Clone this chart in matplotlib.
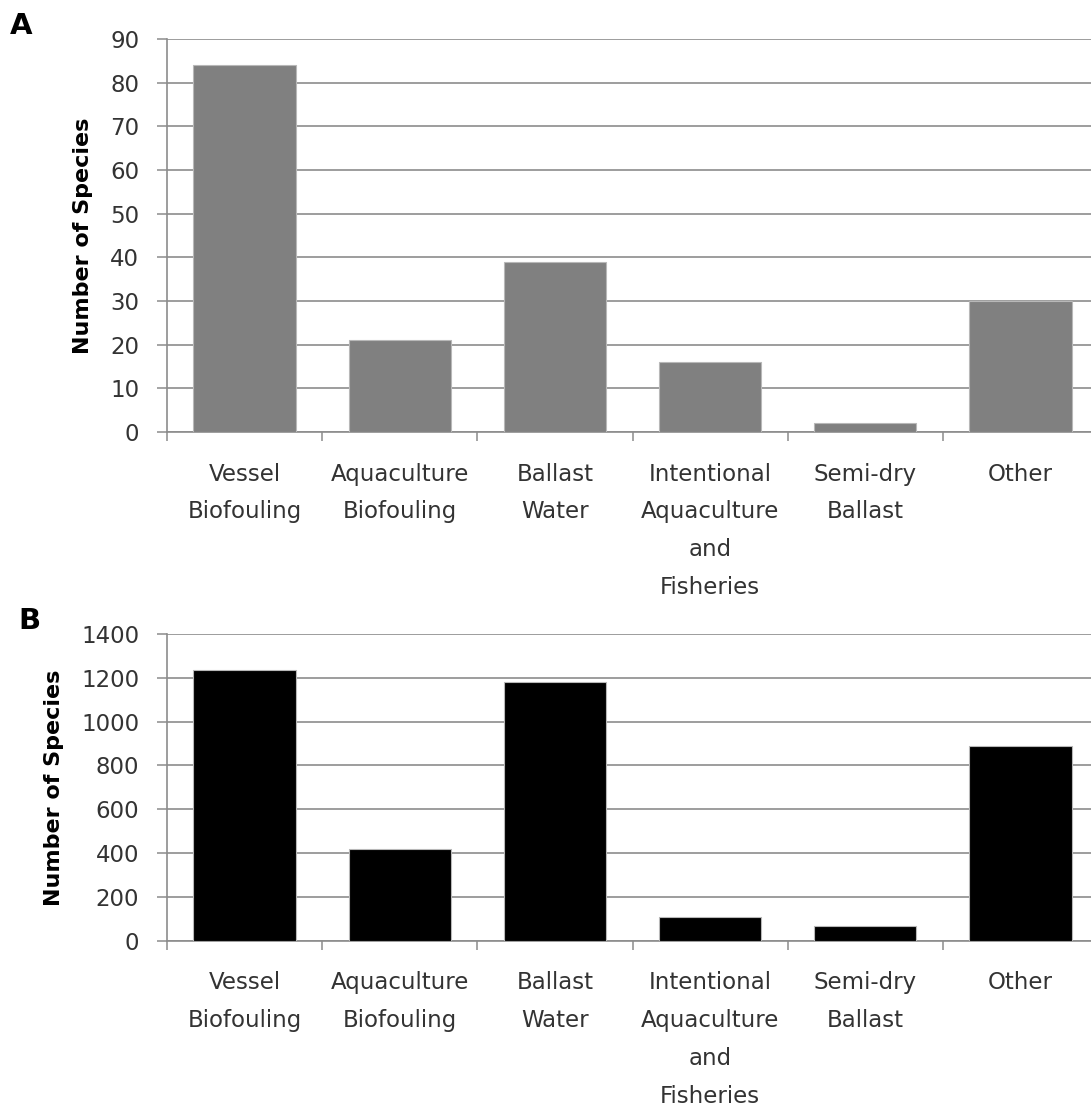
import matplotlib
matplotlib.use("Agg")
import matplotlib.pyplot as plt
import numpy as np
from matplotlib.ticker import MultipleLocator, FixedLocator, NullFormatter

# Introduction pathways and species counts
categories = [
    "Vessel\nBiofouling",
    "Aquaculture\nBiofouling",
    "Ballast\nWater",
    "Intentional\nAquaculture\nand\nFisheries",
    "Semi-dry\nBallast",
    "Other",
]
species_a = [84, 21, 39, 16, 2, 30]
species_b = [1235, 420, 1180, 110, 65, 890]

ylim_a, ystep_a = 90, 10
ylim_b, ystep_b = 1400, 200

plt.rcParams["font.family"] = ["DejaVu Sans"]

W, H = 1091, 1112
fig = plt.figure(figsize=(W / 100, H / 100), dpi=100)

GRID = "#8c8c8c"
TEXT = "#333333"


def px_axes(left, top, right, bottom):
    return fig.add_axes([left / W, 1 - bottom / H, (right - left) / W, (bottom - top) / H])


def draw_panel(ax, values, ymax, ystep, color):
    x = np.arange(len(categories))
    ax.bar(x, values, width=0.66, color=color, edgecolor="#b8b8b8", linewidth=0.8, zorder=3)
    ax.set_xlim(-0.5, len(categories) - 0.5)
    ax.set_ylim(0, ymax)
    ax.yaxis.set_major_locator(MultipleLocator(ystep))
    ax.grid(axis="y", color=GRID, linewidth=1.2, zorder=0)
    ax.set_axisbelow(True)
    for side in ("top", "right"):
        ax.spines[side].set_visible(False)
    for side in ("left", "bottom"):
        ax.spines[side].set_color(GRID)
        ax.spines[side].set_linewidth(1.2)
    ax.spines["left"].set_zorder(4)

    ax.set_xticks(x)
    ax.set_xticklabels(categories, fontsize=16.5, color=TEXT, linespacing=1.82)
    ax.xaxis.set_minor_locator(FixedLocator(np.arange(-0.5, len(categories), 1.0)))
    ax.xaxis.set_minor_formatter(NullFormatter())
    ax.tick_params(axis="x", which="major", length=0, pad=22)
    ax.tick_params(axis="x", which="minor", length=6.5, width=1.1, color=GRID, direction="out")
    ax.tick_params(axis="y", length=7, width=1.1, color=GRID, pad=13,
                   labelsize=16.5, labelcolor=TEXT)
    ax.set_ylabel("Number of Species", fontsize=16, fontweight="bold", labelpad=12)


ax_a = px_axes(167, 39, 1098, 432)
draw_panel(ax_a, species_a, ylim_a, ystep_a, "#808080")

ax_b = px_axes(167, 634, 1098, 940.7)
draw_panel(ax_b, species_b, ylim_b, ystep_b, "#000000")

fig.text(10 / W, 1 - 12 / H, "A", fontsize=21, fontweight="bold", va="top", ha="left")
fig.text(18 / W, 1 - 607 / H, "B", fontsize=21, fontweight="bold", va="top", ha="left")

fig.savefig("out.png", dpi=100, facecolor="white")
